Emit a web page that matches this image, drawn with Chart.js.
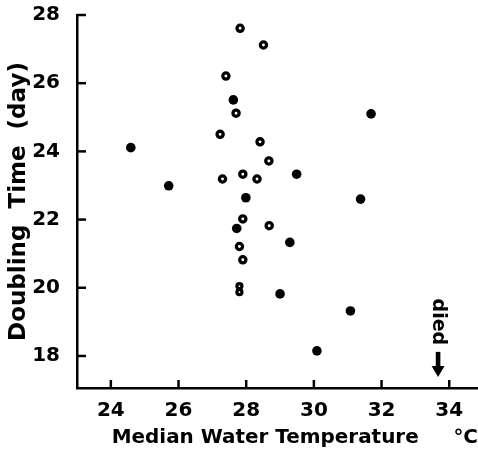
<!DOCTYPE html>
<html>
<head>
<meta charset="utf-8">
<script src="https://cdn.jsdelivr.net/npm/chart.js@4.4.1/dist/chart.umd.min.js"></script>
<style>
body { margin: 0; background: #fff; overflow: hidden; }
canvas { display: block; }
</style>
</head>
<body>
<canvas id="chartDoubling" width="478" height="451"></canvas>
<script>
// tick labels
var xTicks = [24, 26, 28, 30, 32, 34];
var yTicks = [18, 20, 22, 24, 26, 28];

// open circles
var openTemp = [27.82, 28.51, 27.40, 27.70, 27.23, 28.41, 28.67, 27.90, 27.30, 28.32, 27.90, 28.68, 27.80, 27.90];
var openTime = [27.61, 27.12, 26.21, 25.12, 24.50, 24.28, 23.72, 23.33, 23.19, 23.19, 22.02, 21.82, 21.21, 20.82];

// filled circles
var filledTemp = [24.59, 25.71, 27.62, 27.99, 29.49, 27.72, 29.29, 29.00, 31.38, 31.69, 31.08, 30.09];
var filledTime = [24.11, 22.99, 25.51, 22.64, 23.33, 21.74, 21.33, 19.82, 22.60, 25.10, 19.32, 18.15];

// the small "8" (two overlapping small circles)
var pairTemp = [27.80, 27.80];
var pairTime = [20.05, 19.87];

// "died" marker
var diedTemp = 33.67;
var diedLabelAt = 19.0;
var diedArrowFrom = 18.12;
var diedArrowTo = 17.38;

function toPoints(xs, ys) {
    var pts = [];
    for (var i = 0; i < xs.length; i++) pts.push({x: xs[i], y: ys[i]});
    return pts;
}

var fontMain = "'DejaVu Sans', sans-serif";

// ticks point inward, plus the "died" arrow
var inwardTicks = {
    id: 'inwardTicks',
    afterDraw: function(chart) {
        var ctx = chart.ctx, xs = chart.scales.x, ys = chart.scales.y, area = chart.chartArea;
        ctx.save();
        ctx.strokeStyle = '#000';
        ctx.lineWidth = 2.5;
        xTicks.forEach(function(v) {
            var px = xs.getPixelForValue(v);
            ctx.beginPath();
            ctx.moveTo(px, area.bottom);
            ctx.lineTo(px, area.bottom - 8);
            ctx.stroke();
        });
        yTicks.forEach(function(v) {
            var py = ys.getPixelForValue(v);
            ctx.beginPath();
            ctx.moveTo(area.left, py);
            ctx.lineTo(area.left + 9, py);
            ctx.stroke();
        });

        // died arrow
        var ax = xs.getPixelForValue(diedTemp);
        var top = ys.getPixelForValue(diedArrowFrom);
        var tip = ys.getPixelForValue(diedArrowTo);
        ctx.fillStyle = '#000';
        ctx.fillRect(ax - 2.3, top, 4.6, (tip - top) - 8);
        ctx.beginPath();
        ctx.moveTo(ax - 6.5, tip - 11);
        ctx.lineTo(ax + 6.5, tip - 11);
        ctx.lineTo(ax, tip);
        ctx.closePath();
        ctx.fill();

        // died label
        var ly = ys.getPixelForValue(diedLabelAt);
        ctx.translate(ax, ly);
        ctx.rotate(Math.PI / 2);
        ctx.font = 'bold 19px ' + fontMain;
        ctx.textAlign = 'center';
        ctx.textBaseline = 'middle';
        ctx.fillText('died', 0, 0);
        ctx.restore();
    }
};

var ctx = document.getElementById('chartDoubling');
var myScatterDoubling = new Chart(ctx, {
    type: 'scatter',
    data: {
        datasets: [{
            label: 'open',
            data: toPoints(openTemp, openTime),
            backgroundColor: '#fff',
            borderColor: '#000',
            pointRadius: 3.1,
            borderWidth: 3.3
        }, {
            label: 'filled',
            data: toPoints(filledTemp, filledTime),
            backgroundColor: '#000',
            borderColor: '#000',
            pointRadius: 4.8,
            borderWidth: 0
        }, {
            label: 'pair',
            data: toPoints(pairTemp, pairTime),
            backgroundColor: '#fff',
            borderColor: '#000',
            pointRadius: 2.5,
            borderWidth: 3.2
        }]
    },
    options: {
        responsive: false,
        animation: false,
        layout: { autoPadding: false, padding: { top: 15, right: 0, left: 0, bottom: 0 } },
        plugins: {
            legend: { display: false },
            tooltip: { enabled: false }
        },
        scales: {
            x: {
                type: 'linear',
                min: 23,
                max: 34.85,
                afterFit: function(s) { s.height = 63; s.paddingLeft = 0; s.paddingRight = 0; },
                afterBuildTicks: function(s) { s.ticks = xTicks.map(function(v) { return {value: v}; }); },
                grid: { display: false },
                border: { display: true, color: '#000', width: 2.5 },
                ticks: {
                    color: '#000',
                    padding: 3,
                    maxRotation: 0,
                    font: { family: fontMain, size: 20, weight: 'bold' }
                },
                title: {
                    display: true,
                    text: '     Median Water Temperature     °C',
                    color: '#000',
                    padding: { top: 0, bottom: 1 },
                    font: { family: fontMain, size: 20, weight: 'bold' }
                }
            },
            y: {
                type: 'linear',
                min: 17.06,
                max: 28,
                afterFit: function(s) { s.width = 77; s.paddingTop = 0; s.paddingBottom = 0; },
                afterBuildTicks: function(s) { s.ticks = yTicks.map(function(v) { return {value: v}; }); },
                grid: { display: false },
                border: { display: true, color: '#000', width: 2.5 },
                ticks: {
                    color: '#000',
                    padding: 9,
                    font: { family: fontMain, size: 20, weight: 'bold' }
                },
                title: {
                    display: true,
                    text: 'Doubling  Time  (day)',
                    color: '#000',
                    padding: { top: 5, bottom: 0 },
                    font: { family: fontMain, size: 23, weight: 'bold' }
                }
            }
        }
    },
    plugins: [inwardTicks]
});
</script>
</body>
</html>
